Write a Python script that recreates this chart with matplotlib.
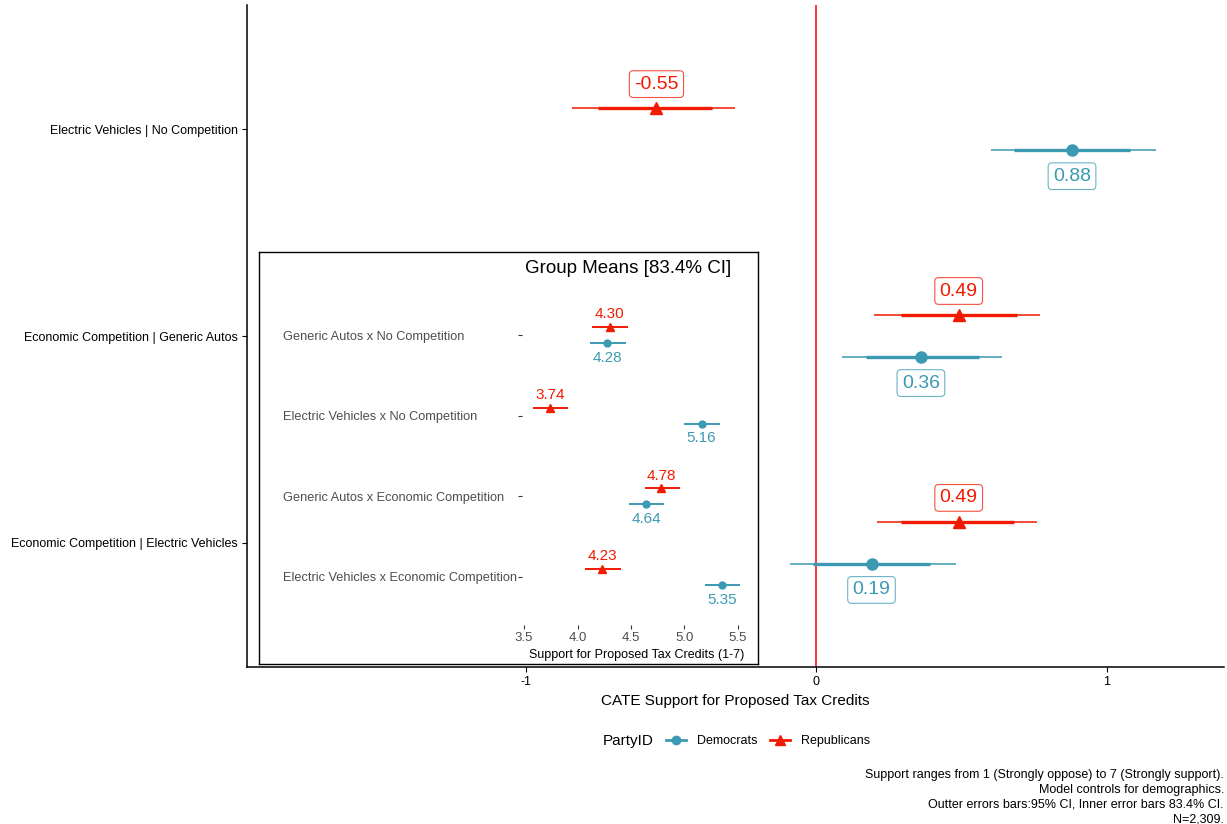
import matplotlib
matplotlib.use("Agg")
import matplotlib.pyplot as plt
import numpy as np
from matplotlib.colors import to_rgba
from matplotlib.lines import Line2D

plt.rcParams["font.family"] = ["Liberation Sans", "DejaVu Sans"]

DEM = "#3B9AB2"
REP = "#F21A00"

# CATE estimates with 95% (outer) and 83.4% (inner) intervals
contrasts = [
    "Electric Vehicles | No Competition",
    "Economic Competition | Generic Autos",
    "Economic Competition | Electric Vehicles",
]
dem_est = [0.88, 0.36, 0.19]
dem_lo95 = [0.60, 0.09, -0.09]
dem_hi95 = [1.17, 0.64, 0.48]
dem_lo83 = [0.68, 0.17, -0.01]
dem_hi83 = [1.08, 0.56, 0.39]

rep_est = [-0.55, 0.49, 0.49]
rep_lo95 = [-0.84, 0.20, 0.21]
rep_hi95 = [-0.28, 0.77, 0.76]
rep_lo83 = [-0.75, 0.29, 0.29]
rep_hi83 = [-0.36, 0.69, 0.68]

# group means with 83.4% intervals
groups = [
    "Generic Autos x No Competition",
    "Electric Vehicles x No Competition",
    "Generic Autos x Economic Competition",
    "Electric Vehicles x Economic Competition",
]
dem_mean = [4.28, 5.16, 4.64, 5.35]
dem_mlo = [4.12, 5.00, 4.48, 5.19]
dem_mhi = [4.45, 5.33, 4.81, 5.52]

rep_mean = [4.30, 3.74, 4.78, 4.23]
rep_mlo = [4.14, 3.58, 4.63, 4.07]
rep_mhi = [4.47, 3.91, 4.96, 4.41]

caption = ("Support ranges from 1 (Strongly oppose) to 7 (Strongly support).\n"
           "Model controls for demographics.\n"
           "Outter errors bars:95% CI, Inner error bars 83.4% CI.\n"
           "N=2,309.")

W, H = 1227, 824
fig = plt.figure(figsize=(W / 100, H / 100), dpi=100)


def fx(px):
    return px / W


def fy(py):
    return 1 - py / H


# ---- main CATE panel ----
ax = fig.add_axes([fx(247), fy(667), fx(1224) - fx(247), fy(5) - fy(667)])
ys = np.arange(len(contrasts))[::-1] + 1.0
dodge = 0.1

ax.axvline(0, color="red", lw=1.1, zorder=1)

series = [
    (DEM, "o", 8, dem_est, dem_lo95, dem_hi95, dem_lo83, dem_hi83, -dodge, -19),
    (REP, "^", 9, rep_est, rep_lo95, rep_hi95, rep_lo83, rep_hi83, dodge, 17.5),
]
for col, mk, ms, est, lo95, hi95, lo83, hi83, off, lab_off in series:
    y = ys + off
    ax.hlines(y, lo95, hi95, color=col, lw=1.1, zorder=2)
    ax.hlines(y, lo83, hi83, color=col, lw=2.4, zorder=3)
    ax.plot(est, y, ls="none", marker=mk, ms=ms, color=col, zorder=4)
    for xv, yv in zip(est, y):
        ax.annotate(f"{xv:.2f}", (xv, yv), xytext=(0, lab_off), textcoords="offset points",
                    ha="center", va="center", fontsize=14, color=col,
                    bbox=dict(boxstyle="round,pad=0.25,rounding_size=0.2", fc="white",
                              ec=to_rgba(col, 0.75), lw=0.8))

ax.set_xlim(-1.959, 1.403)
ax.set_ylim(0.4, 3.6)
ax.set_xticks([-1, 0, 1])
ax.set_xticklabels(["-1", "0", "1"])
ax.set_yticks(ys)
ax.set_yticklabels(contrasts)
ax.tick_params(labelsize=9, colors="black", length=3.5, width=0.8, pad=3)
for s in ["top", "right"]:
    ax.spines[s].set_visible(False)
for s in ["left", "bottom"]:
    ax.spines[s].set_linewidth(1.1)
ax.set_xlabel("CATE Support for Proposed Tax Credits", fontsize=11, labelpad=4)

# ---- inset: group means ----
box = fig.add_axes([fx(259), fy(664), fx(758) - fx(259), fy(252) - fy(664)])
box.set_xticks([])
box.set_yticks([])
box.set_facecolor("white")
for s in box.spines.values():
    s.set_linewidth(1.0)

fig.text(fx(628), fy(268), "Group Means [83.4% CI]", ha="center", va="center", fontsize=13.5)

ins = fig.add_axes([fx(522), fy(625.4), fx(750.5) - fx(522), fy(286.6) - fy(625.4)])
ins.patch.set_alpha(0)
gy = np.arange(len(groups))[::-1] + 1.0
for col, mk, ms, mean, lo, hi, off, lab_off in [
    (DEM, "o", 5, dem_mean, dem_mlo, dem_mhi, -dodge, -10.5),
    (REP, "^", 6, rep_mean, rep_mlo, rep_mhi, dodge, 9),
]:
    y = gy + off
    ins.hlines(y, lo, hi, color=col, lw=1.4)
    ins.plot(mean, y, ls="none", marker=mk, ms=ms, color=col)
    for xv, yv in zip(mean, y):
        ins.annotate(f"{xv:.2f}", (xv, yv), xytext=(0, lab_off), textcoords="offset points",
                     ha="center", va="center", fontsize=11, color=col)

ins.set_xlim(3.481, 5.617)
ins.set_ylim(0.4, 4.6)
ins.set_xticks([3.5, 4.0, 4.5, 5.0, 5.5])
ins.set_xticklabels(["3.5", "4.0", "4.5", "5.0", "5.5"])
ins.set_yticks(gy)
ins.set_yticklabels(groups)
for s in ins.spines.values():
    s.set_visible(False)
ins.tick_params(axis="x", labelsize=9.5, labelcolor="#4D4D4D", color="#333333", length=3, width=0.8, pad=2)
ins.tick_params(axis="y", labelsize=9.15, labelcolor="#4D4D4D", color="#333333", length=3, width=0.8, pad=169)
for lab in ins.get_yticklabels():
    lab.set_horizontalalignment("left")
ins.set_xlabel("Support for Proposed Tax Credits (1-7)", fontsize=9, labelpad=3)

# ---- legend and caption ----
fig.text(fx(603), fy(741), "PartyID", fontsize=11, va="center", ha="left")
handles = [
    Line2D([], [], color=DEM, lw=2, marker="o", ms=6, label="Democrats"),
    Line2D([], [], color=REP, lw=2, marker="^", ms=7, label="Republicans"),
]
fig.legend(handles=handles, loc="center left", bbox_to_anchor=(fx(666), fy(741)), ncol=2,
           frameon=False, fontsize=9, handlelength=1.6, handletextpad=0.9,
           columnspacing=1.0, borderpad=0, borderaxespad=0)

fig.text(fx(1224), fy(769), caption, ha="right", va="top", fontsize=9, linespacing=1.3,
         multialignment="right")

fig.savefig("out.png", dpi=100)
